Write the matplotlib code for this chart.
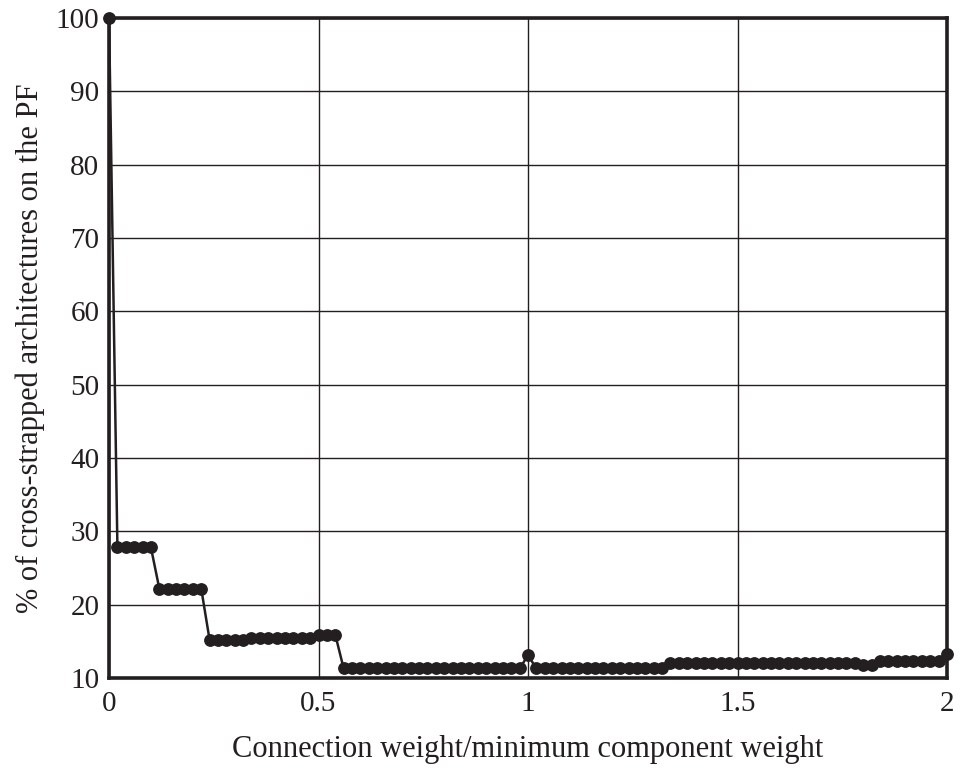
import matplotlib
matplotlib.use("Agg")
import matplotlib.pyplot as plt

# x positions (connection weight / minimum component weight)
x_vals = [0.00, 0.02, 0.04, 0.06, 0.08, 0.10, 0.12, 0.14, 0.16, 0.18,
          0.20, 0.22, 0.24, 0.26, 0.28, 0.30, 0.32, 0.34, 0.36, 0.38,
          0.40, 0.42, 0.44, 0.46, 0.48, 0.50, 0.52, 0.54, 0.56, 0.58,
          0.60, 0.62, 0.64, 0.66, 0.68, 0.70, 0.72, 0.74, 0.76, 0.78,
          0.80, 0.82, 0.84, 0.86, 0.88, 0.90, 0.92, 0.94, 0.96, 0.98,
          1.00, 1.02, 1.04, 1.06, 1.08, 1.10, 1.12, 1.14, 1.16, 1.18,
          1.20, 1.22, 1.24, 1.26, 1.28, 1.30, 1.32, 1.34, 1.36, 1.38,
          1.40, 1.42, 1.44, 1.46, 1.48, 1.50, 1.52, 1.54, 1.56, 1.58,
          1.60, 1.62, 1.64, 1.66, 1.68, 1.70, 1.72, 1.74, 1.76, 1.78,
          1.80, 1.82, 1.84, 1.86, 1.88, 1.90, 1.92, 1.94, 1.96, 1.98,
          2.00]

# % of cross-strapped architectures on the PF
pct_vals = [100.0,
            27.8, 27.8, 27.8, 27.8, 27.8,
            22.2, 22.2, 22.2, 22.2, 22.2, 22.2,
            15.2, 15.2, 15.2, 15.2, 15.2,
            15.5, 15.5, 15.5, 15.5, 15.5, 15.5, 15.5, 15.5,
            15.9, 15.9, 15.9,
            11.3, 11.3, 11.3, 11.3, 11.3, 11.3, 11.3, 11.3, 11.3, 11.3, 11.3,
            11.3, 11.3, 11.3, 11.3, 11.3, 11.3, 11.3, 11.3, 11.3, 11.3, 11.3,
            13.1,
            11.3, 11.3, 11.3, 11.3, 11.3, 11.3, 11.3, 11.3,
            11.3, 11.3, 11.3, 11.3, 11.3, 11.3, 11.3, 11.3,
            12.0, 12.0, 12.0, 12.0, 12.0, 12.0, 12.0, 12.0, 12.0, 12.0, 12.0, 12.0,
            12.0, 12.0, 12.0, 12.0, 12.0, 12.0, 12.0, 12.0, 12.0, 12.0, 12.0,
            11.8, 11.8,
            12.3, 12.3, 12.3, 12.3, 12.3, 12.3, 12.3, 12.3,
            13.3]

x_ticks = [0, 0.5, 1, 1.5, 2]
x_tick_labels = ["0", "0.5", "1", "1.5", "2"]
y_ticks = [10, 20, 30, 40, 50, 60, 70, 80, 90, 100]

plt.rcParams['font.family'] = ['Liberation Serif', 'DejaVu Serif']

ink = "#231f20"
fig = plt.figure(figsize=(9.77, 7.71), dpi=100)
ax = fig.add_axes([0.1116, 0.1206, 0.8577, 0.8561])

ax.plot(x_vals, pct_vals, color=ink, lw=1.8, marker='o', markersize=8.2,
        markerfacecolor=ink, markeredgecolor=ink, clip_on=False, zorder=3)

ax.set_xlim(0, 2)
ax.set_ylim(10, 100)
ax.set_xticks(x_ticks)
ax.set_xticklabels(x_tick_labels)
ax.set_yticks(y_ticks)
ax.grid(True, color=ink, lw=1.0)
ax.set_axisbelow(True)
ax.tick_params(length=0, labelsize=21, colors=ink)
ax.tick_params(axis='x', pad=9)
ax.tick_params(axis='y', pad=7)
for s in ax.spines.values():
    s.set_linewidth(2.6)
    s.set_color(ink)

ax.set_xlabel("Connection weight/minimum component weight", fontsize=22,
              color=ink, labelpad=13)
ax.set_ylabel("% of cross-strapped architectures on the PF", fontsize=22,
              color=ink, labelpad=8)

fig.savefig("out.png", dpi=100)
